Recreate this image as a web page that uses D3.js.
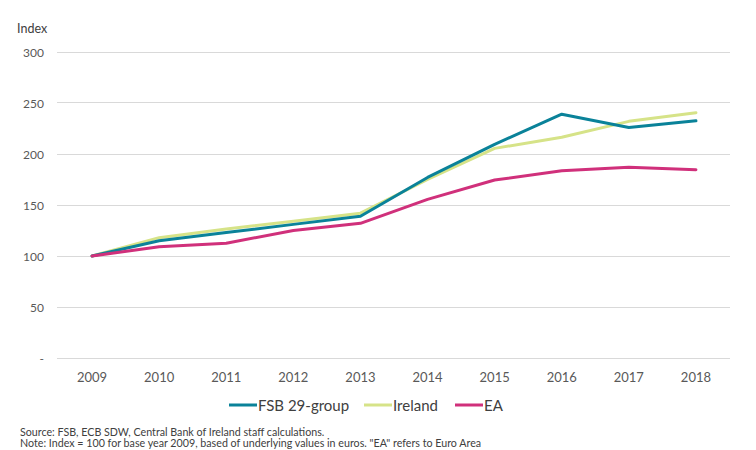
<!DOCTYPE html>
<html><head><meta charset="utf-8">
<script src="https://cdn.jsdelivr.net/npm/d3@7"></script>
<style>body{margin:0;background:#fff;}svg{display:block;font-family:Lato,sans-serif;}</style>
</head><body><svg id="c" width="756" height="450"></svg>
<script>
const years = ["2009","2010","2011","2012","2013","2014","2015","2016","2017","2018"];
const fsb = [100,115,123,131,139,177,209.5,239,226,232.5];
const ireland = [100,118,126.5,134,142,175,205.5,216.5,232,240.5];
const ea = [100,109,112.5,125,132,155.5,174.5,183.5,187,184.5];
const yTicks = [0,50,100,150,200,250,300];
const seriesNames = ["FSB 29-group","Ireland","EA"];
const colors = ["#0a8299","#d6e388","#d0307b"];

const svg = d3.select("#c");
const x = d3.scaleBand().domain(years).range([58.5,729.5]);
const y = d3.scaleLinear().domain([0,300]).range([358,52]);

// gridlines
svg.append("g").selectAll("line").data(yTicks).join("line")
  .attr("x1",57).attr("x2",730).attr("y1",d=>Math.floor(y(d))+0.5).attr("y2",d=>Math.floor(y(d))+0.5)
  .attr("stroke","#d9d9d9").attr("stroke-width",1);

// y labels
svg.append("g").selectAll("text").data(yTicks).join("text")
  .attr("x",44).attr("y",d=>y(d)+4.5).attr("text-anchor","end")
  .attr("font-size",12).attr("fill","#595959")
  .text(d=>d===0?"-":d);

svg.append("text").attr("x",17).attr("y",33).attr("font-size",12.5).attr("fill","#404040").text("Index");

// x labels
svg.append("g").selectAll("text").data(years).join("text")
  .attr("x",d=>x(d)+x.bandwidth()/2).attr("y",382).attr("text-anchor","middle")
  .attr("font-size",13).attr("fill","#595959").text(d=>d);

const line = d3.line().x((d,i)=>x(years[i])+x.bandwidth()/2).y(d=>y(d));
const data = [fsb,ireland,ea];
[1,0,2].forEach(k=>{
  svg.append("path").datum(data[k]).attr("d",line).attr("fill","none")
    .attr("stroke",colors[k]).attr("stroke-width",3).attr("stroke-linejoin","round").attr("stroke-linecap","round");
});

// legend
const legX = [229,364,455];
const lg = svg.append("g");
seriesNames.forEach((n,i)=>{
  lg.append("line").attr("x1",legX[i]).attr("x2",legX[i]+28).attr("y1",405).attr("y2",405)
    .attr("stroke",colors[i]).attr("stroke-width",3);
  lg.append("text").attr("x",legX[i]+29).attr("y",410.5).attr("font-size",15).attr("fill","#404040").text(n);
});

svg.append("text").attr("x",20).attr("y",435.5).attr("font-size",10.7).attr("fill","#404040")
  .text("Source: FSB, ECB SDW, Central Bank of Ireland staff calculations.");
svg.append("text").attr("x",20).attr("y",447).attr("font-size",10.7).attr("fill","#404040")
  .text("Note: Index = 100 for base year 2009, based of underlying values in euros. \"EA\" refers to Euro Area");
</script></body></html>
